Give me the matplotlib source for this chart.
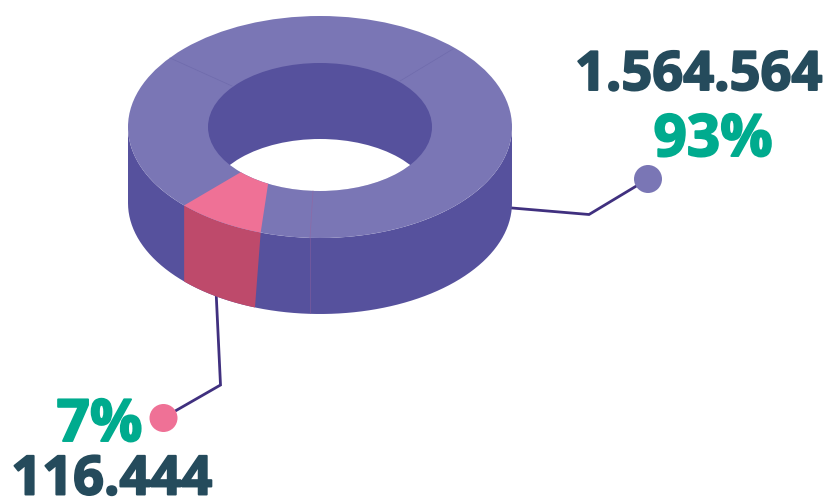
import matplotlib
matplotlib.use("Agg")
import matplotlib.pyplot as plt
import matplotlib.patheffects as pe
import numpy as np
from matplotlib.patches import Circle, Ellipse, Polygon

plt.rcParams['font.family'] = ['Open Sans', 'DejaVu Sans']

values = [1564564, 116444]
value_labels = ["1.564.564", "116.444"]
percent_labels = ["93%", "7%"]

top_color = "#7A76B5"
wall_color = "#56519D"
pink_color = "#EF7196"
pink_wall_color = "#BE4A6B"
line_color = "#40307F"
value_color = "#254B5C"
percent_color = "#00AB8E"

# ring geometry, in pixels
cx, cy = 320, 127
rx_out, ry_out = 192, 111
rx_in, ry_in = 112, 64
depth = 76
pink_start = 108
pink_start_in = 117.6    # inner edge of the slice is not radial in the picture
pink_start_low = 109.8   # and the wall edge leans inwards
pink_extra = 2.1         # slice is drawn slightly wider than its share


def arc(rx, ry, t0, t1, dy=0, n=80):
    t = np.radians(np.linspace(t0, t1, n))
    return np.column_stack([cx + rx * np.cos(t), cy + dy + ry * np.sin(t)])


fig = plt.figure(figsize=(8.27, 4.97), dpi=100)
ax = fig.add_axes([0, 0, 1, 1])
ax.set_xlim(0, 827)
ax.set_ylim(497, 0)
ax.axis('off')

pink_end = pink_start + 360 * values[1] / sum(values) + pink_extra

""" leader lines, behind the ring """
ax.plot([512, 589, 648], [208, 214.5, 179], color=line_color, lw=2, solid_joinstyle='miter')
ax.plot([216, 220.5, 163], [290, 385, 418], color=line_color, lw=2, solid_joinstyle='miter')
ax.add_patch(Circle((648, 179), 14, fc=top_color, ec='none', zorder=3))
ax.add_patch(Circle((163.5, 418), 14, fc=pink_color, ec='none', zorder=3))

""" outer wall """
wall = np.vstack([arc(rx_out, ry_out, 0, 180), arc(rx_out, ry_out, 180, 0, dy=depth)])
ax.add_patch(Polygon(wall, fc=wall_color, ec='none', zorder=4))
pink_top = arc(rx_out, ry_out, pink_end, pink_start)
pink_bottom = arc(rx_out, ry_out, pink_start_low, pink_end, dy=depth)
ax.add_patch(Polygon(np.vstack([pink_top, pink_bottom]), fc=pink_wall_color, ec='none', zorder=5))

""" top face and hole """
ax.add_patch(Ellipse((cx, cy), 2 * rx_out, 2 * ry_out, fc=top_color, ec='none', zorder=6))
hole = Ellipse((cx, cy), 2 * rx_in, 2 * ry_in, fc=wall_color, ec='none', zorder=7)
ax.add_patch(hole)
floor = Ellipse((cx, cy + depth), 2 * rx_in, 2 * ry_in, fc='white', ec='none', zorder=8)
ax.add_patch(floor)
floor.set_clip_path(hole)

""" pink slice """
slice_top = np.vstack([arc(rx_out, ry_out, pink_start, pink_end), arc(rx_in, ry_in, pink_end, pink_start_in)])
ax.add_patch(Polygon(slice_top, fc=pink_color, ec='none', zorder=9))

""" faint seams """
seam = dict(color="#6F6BAC", lw=0.5, zorder=9)
ax.plot([170, 232], [58, 86], **seam)
ax.plot([453, 400], [49, 81], **seam)
ax.plot([313, 310], [191, 238], color="#8E6AA6", lw=0.5, zorder=9)
ax.plot([310, 310], [238, 313], color="#7A5A9E", lw=0.5, zorder=9)

""" labels """
heavy = [pe.withStroke(linewidth=1.4, foreground=value_color)]
heavy_green = [pe.withStroke(linewidth=1.4, foreground=percent_color)]
ax.text(698.5, 90, value_labels[0], color=value_color, fontsize=39, fontweight='bold',
        ha='center', va='baseline', path_effects=heavy, zorder=10)
ax.text(713, 156, percent_labels[0], color=percent_color, fontsize=42, fontweight='bold',
        ha='center', va='baseline', path_effects=heavy_green, zorder=10)
ax.text(99.5, 441, percent_labels[1], color=percent_color, fontsize=42, fontweight='bold',
        ha='center', va='baseline', path_effects=heavy_green, zorder=10)
ax.text(111.5, 494.5, value_labels[1], color=value_color, fontsize=39, fontweight='bold',
        ha='center', va='baseline', path_effects=heavy, zorder=10)

fig.savefig("out.png", dpi=100, facecolor='white')
